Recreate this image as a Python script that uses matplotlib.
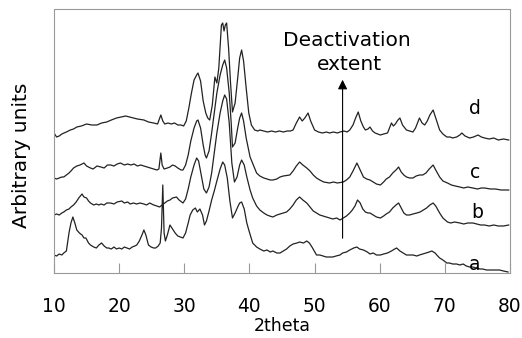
import matplotlib
matplotlib.use('Agg')
import matplotlib.pyplot as plt

# (2theta, intensity), offset traces a..d
trace_a = [(10.0, 18), (10.4, 17), (10.8, 19), (11.2, 18), (11.5, 20), (11.9, 22), (12.3, 40), (12.6, 50),
           (12.9, 56), (13.2, 50), (13.5, 43), (13.9, 40), (14.3, 38), (14.6, 35), (14.9, 35), (15.3, 30),
           (15.6, 28), (16.1, 26), (16.5, 25), (16.9, 28), (17.3, 30), (17.7, 27), (18.1, 25), (18.4, 25),
           (18.8, 24), (19.2, 26), (19.6, 24), (20.0, 25), (20.4, 24), (20.8, 26), (21.2, 25), (21.6, 24),
           (22.0, 26), (22.4, 27), (22.7, 28), (23.1, 32), (23.5, 38), (23.8, 43), (24.1, 38), (24.5, 28),
           (24.9, 26), (25.3, 25), (25.6, 25), (26.0, 27), (26.3, 30), (26.5, 45), (26.7, 88), (26.9, 40),
           (27.1, 32), (27.4, 38), (27.8, 48), (28.2, 44), (28.6, 40), (29.0, 37), (29.4, 36), (29.8, 35),
           (30.2, 40), (30.6, 50), (30.9, 58), (31.3, 63), (31.7, 65), (32.0, 61), (32.4, 64), (32.8, 58),
           (33.1, 48), (33.4, 52), (33.8, 62), (34.2, 73), (34.6, 82), (35.0, 92), (35.5, 104), (35.9, 111),
           (36.2, 108), (36.6, 95), (37.0, 72), (37.4, 55), (37.8, 60), (38.2, 66), (38.5, 70), (38.8, 71),
           (39.2, 64), (39.6, 50), (39.9, 43), (40.5, 30), (41.1, 26), (41.6, 24), (42.2, 22), (42.7, 23),
           (43.2, 21), (43.6, 22), (44.2, 20), (44.7, 20), (45.2, 22), (45.7, 24), (46.2, 27), (46.7, 29),
           (47.3, 30), (47.7, 31), (48.3, 30), (48.8, 32), (49.2, 30), (49.6, 26), (50.3, 18), (50.8, 18),
           (51.3, 17), (51.8, 16), (52.3, 16), (52.8, 16), (53.3, 17), (53.9, 18), (54.3, 20), (54.9, 21),
           (55.4, 23), (56.0, 25), (56.5, 26), (56.9, 24), (57.5, 23), (58.1, 21), (58.5, 19), (59.0, 20),
           (59.5, 18), (60.1, 18), (60.6, 19), (61.2, 20), (61.8, 22), (62.3, 24), (62.6, 25), (63.1, 22),
           (63.6, 20), (64.1, 18), (64.6, 18), (65.1, 18), (65.7, 17), (66.1, 18), (66.6, 19), (67.1, 20),
           (67.6, 21), (68.0, 22), (68.5, 20), (68.9, 17), (69.2, 15), (69.7, 13), (70.3, 10), (70.7, 10),
           (71.2, 9), (71.8, 9), (72.3, 8), (72.8, 9), (73.3, 7), (73.8, 6), (74.3, 6), (74.8, 5),
           (75.4, 4), (75.8, 4), (76.4, 3), (77.0, 3), (77.6, 3), (78.4, 3), (79.0, 2), (79.7, 1)]

trace_b = [(10.0, 58), (10.4, 59), (10.8, 58), (11.2, 60), (11.5, 61), (11.9, 63), (12.3, 64), (12.6, 66),
           (13.0, 68), (13.4, 71), (13.8, 75), (14.3, 79), (14.6, 76), (15.0, 75), (15.3, 72), (15.6, 70),
           (16.1, 68), (16.5, 69), (16.9, 68), (17.2, 69), (17.7, 68), (18.1, 70), (18.7, 70), (19.2, 69),
           (19.7, 71), (20.4, 72), (20.8, 70), (21.3, 71), (21.7, 69), (22.2, 70), (22.7, 69), (23.2, 70),
           (23.8, 69), (24.2, 68), (24.7, 70), (25.3, 68), (25.8, 67), (26.2, 66), (26.6, 68), (27.0, 70),
           (27.4, 72), (27.8, 73), (28.2, 75), (28.8, 76), (29.2, 73), (29.8, 70), (30.2, 74), (30.6, 84),
           (31.0, 96), (31.5, 108), (31.9, 115), (32.2, 112), (32.6, 98), (33.0, 84), (33.4, 80), (33.8, 86),
           (34.2, 100), (34.6, 120), (35.0, 140), (35.5, 160), (35.9, 172), (36.2, 178), (36.5, 174), (36.9, 150),
           (37.3, 110), (37.7, 91), (38.1, 96), (38.5, 108), (38.8, 113), (39.2, 108), (39.6, 96), (40.1, 83),
           (40.5, 75), (41.1, 67), (41.6, 63), (42.2, 60), (42.7, 58), (43.1, 57), (43.6, 56), (44.2, 58),
           (44.7, 59), (45.2, 60), (45.7, 61), (46.2, 64), (46.7, 68), (47.2, 73), (47.7, 76), (48.2, 73),
           (48.8, 70), (49.3, 66), (49.8, 62), (50.3, 60), (50.8, 58), (51.3, 57), (51.8, 56), (52.3, 55),
           (52.8, 54), (53.4, 55), (53.9, 53), (54.4, 55), (54.9, 57), (55.4, 60), (55.8, 63), (56.2, 67),
           (56.6, 73), (57.0, 70), (57.4, 64), (57.8, 61), (58.2, 60), (58.5, 60), (59.0, 58), (59.5, 56),
           (60.1, 55), (60.6, 57), (61.0, 59), (61.5, 61), (62.0, 65), (62.5, 68), (62.9, 70), (63.3, 65),
           (63.7, 60), (64.1, 58), (64.6, 58), (65.1, 59), (65.7, 60), (66.2, 61), (66.7, 63), (67.2, 65),
           (67.7, 68), (68.2, 70), (68.6, 67), (69.2, 60), (69.7, 55), (70.4, 51), (70.9, 50), (71.5, 51),
           (72.3, 50), (72.9, 49), (73.5, 50), (74.3, 50), (74.9, 49), (75.5, 48), (76.1, 48), (76.8, 47),
           (77.5, 48), (78.2, 47), (79.0, 47), (79.8, 48)]

trace_c = [(10.0, 95), (10.4, 94), (10.8, 95), (11.2, 96), (11.5, 96), (11.9, 98), (12.3, 100), (12.6, 102),
           (13.0, 105), (13.5, 107), (14.0, 108), (14.6, 110), (15.0, 107), (15.6, 105), (16.0, 104), (16.6, 107),
           (17.2, 106), (17.7, 105), (18.2, 108), (18.7, 108), (19.2, 107), (19.7, 109), (20.2, 110), (20.8, 108),
           (21.3, 109), (21.8, 108), (22.3, 109), (22.8, 107), (23.3, 108), (23.8, 107), (24.3, 106), (24.8, 105),
           (25.3, 104), (25.8, 103), (26.1, 104), (26.4, 120), (26.6, 108), (26.9, 104), (27.4, 105), (27.8, 106),
           (28.2, 108), (28.6, 107), (29.0, 105), (29.5, 103), (29.8, 103), (30.2, 108), (30.6, 118), (31.0, 132),
           (31.5, 145), (31.9, 152), (32.1, 153), (32.5, 145), (32.9, 128), (33.2, 118), (33.4, 115), (33.8, 122),
           (34.2, 140), (34.6, 160), (35.0, 180), (35.5, 198), (35.9, 208), (36.2, 213), (36.5, 205), (36.9, 180),
           (37.2, 150), (37.4, 126), (37.8, 130), (38.2, 145), (38.5, 155), (38.8, 160), (39.1, 152), (39.5, 135),
           (39.9, 122), (40.1, 116), (40.6, 108), (41.1, 100), (41.6, 97), (42.2, 95), (42.7, 94), (43.2, 93),
           (43.6, 93), (44.2, 94), (44.7, 96), (45.2, 97), (46.2, 98), (46.7, 102), (47.2, 107), (47.7, 111),
           (48.2, 108), (48.8, 105), (49.3, 102), (49.8, 98), (50.3, 95), (50.8, 93), (51.4, 91), (52.3, 90),
           (52.9, 91), (53.5, 90), (54.4, 91), (54.9, 93), (55.4, 96), (55.9, 102), (56.5, 110), (57.0, 103),
           (57.5, 96), (58.0, 94), (58.5, 93), (59.0, 91), (59.5, 89), (60.1, 88), (60.6, 91), (61.0, 94),
           (61.5, 96), (62.0, 100), (62.5, 103), (62.9, 106), (63.3, 101), (63.7, 98), (64.1, 96), (64.6, 95),
           (65.1, 95), (65.6, 97), (66.1, 98), (66.6, 98), (67.1, 100), (67.6, 104), (68.2, 108), (68.6, 103),
           (69.2, 96), (69.7, 92), (70.4, 90), (71.0, 88), (71.6, 87), (72.3, 86), (72.9, 85), (73.5, 86),
           (74.3, 85), (75.0, 84), (75.6, 85), (76.1, 85), (77.0, 84), (77.8, 84), (78.6, 83), (79.8, 83)]

trace_d = [(10.0, 140), (10.4, 136), (10.8, 137), (11.2, 139), (11.9, 141), (12.5, 143), (13.0, 144), (13.5, 146),
           (14.2, 147), (15.0, 149), (15.8, 148), (16.6, 148), (17.3, 150), (18.1, 151), (18.8, 153), (19.6, 155),
           (20.3, 156), (21.0, 157), (21.6, 156), (22.2, 155), (22.8, 154), (23.8, 153), (24.5, 151), (25.3, 150),
           (25.9, 149), (26.4, 158), (26.7, 152), (27.0, 149), (27.5, 150), (28.0, 149), (28.5, 150), (29.0, 148),
           (29.5, 148), (29.9, 147), (30.3, 152), (30.7, 165), (31.1, 180), (31.5, 193), (31.9, 198), (32.1, 200),
           (32.5, 192), (32.9, 172), (33.3, 160), (33.6, 155), (33.9, 153), (34.3, 168), (34.7, 196), (35.0, 190),
           (35.3, 205), (35.7, 248), (35.9, 250), (36.1, 242), (36.3, 248), (36.5, 250), (36.8, 225), (37.1, 190),
           (37.4, 161), (37.8, 170), (38.2, 195), (38.5, 215), (38.8, 223), (39.1, 212), (39.5, 185), (39.9, 160),
           (40.3, 148), (40.8, 143), (41.3, 142), (41.6, 143), (42.2, 142), (42.8, 141), (43.4, 142), (44.0, 141),
           (44.6, 142), (45.2, 141), (45.8, 142), (46.3, 142), (46.7, 143), (47.2, 150), (47.7, 156), (48.1, 152),
           (48.5, 155), (49.0, 160), (49.4, 152), (50.0, 143), (50.6, 141), (51.2, 140), (51.8, 141), (52.3, 140),
           (52.9, 141), (53.5, 140), (53.9, 141), (54.5, 142), (55.0, 141), (55.4, 143), (55.9, 148), (56.3, 155),
           (56.7, 161), (57.1, 152), (57.5, 146), (57.8, 143), (58.2, 144), (58.5, 146), (58.9, 142), (59.3, 140),
           (60.1, 138), (60.6, 139), (61.2, 140), (61.5, 145), (61.8, 150), (62.1, 147), (62.4, 149), (62.8, 153),
           (63.1, 155), (63.5, 148), (64.1, 143), (64.6, 142), (65.1, 141), (65.5, 145), (65.8, 150), (66.1, 155),
           (66.5, 150), (66.9, 148), (67.3, 152), (67.7, 158), (68.2, 163), (68.6, 155), (69.2, 143), (69.7, 139),
           (70.3, 136), (70.8, 136), (71.2, 135), (71.8, 136), (72.3, 138), (72.6, 140), (73.1, 137), (73.8, 135),
           (74.4, 136), (75.1, 138), (75.6, 136), (76.1, 135), (76.8, 134), (77.5, 135), (78.2, 133), (79.0, 134),
           (79.8, 133)]

labels = ['a', 'b', 'c', 'd']
label_pos = [(74.6, 8), (75.0, 60), (74.6, 101), (74.6, 165)]
xticks = [10, 20, 30, 40, 50, 60, 70, 80]

fig = plt.figure(figsize=(5.22, 3.38), dpi=100)
ax = fig.add_axes([54/522, 65/338, 456/522, 264/338])

for tr in [trace_a, trace_b, trace_c, trace_d]:
    x, y = zip(*tr)
    ax.plot(x, y, color='#222222', linewidth=0.9)

for lab, (lx, ly) in zip(labels, label_pos):
    ax.text(lx, ly, lab, ha='center', va='center', fontsize=13.5)

# arrow + annotation
ax.annotate('', xy=(54.3, 196), xytext=(54.3, 32),
            arrowprops=dict(arrowstyle='-|>', color='k', lw=0.8, mutation_scale=14))
ax.text(55.0, 233, 'Deactivation', ha='center', va='center', fontsize=14.5)
ax.text(55.4, 208, 'extent', ha='center', va='center', fontsize=14.5)

ax.set_xlim(10, 80)
ax.set_ylim(0, 264)
ax.set_xticks(xticks)
ax.set_yticks([])
ax.tick_params(axis='x', direction='in', length=7, color='#999999', labelsize=13.4, pad=17)
for s in ax.spines.values():
    s.set_color('#999999')
    s.set_linestyle((0, (1, 1)))
    s.set_linewidth(0.8)

ax.set_xlabel('2theta', fontsize=12.5, labelpad=1)
fig.text(22/522, 1 - 155.5/338, 'Arbitrary units', rotation=90, ha='center', va='center', fontsize=14.5)

fig.savefig('out.png', dpi=100)
